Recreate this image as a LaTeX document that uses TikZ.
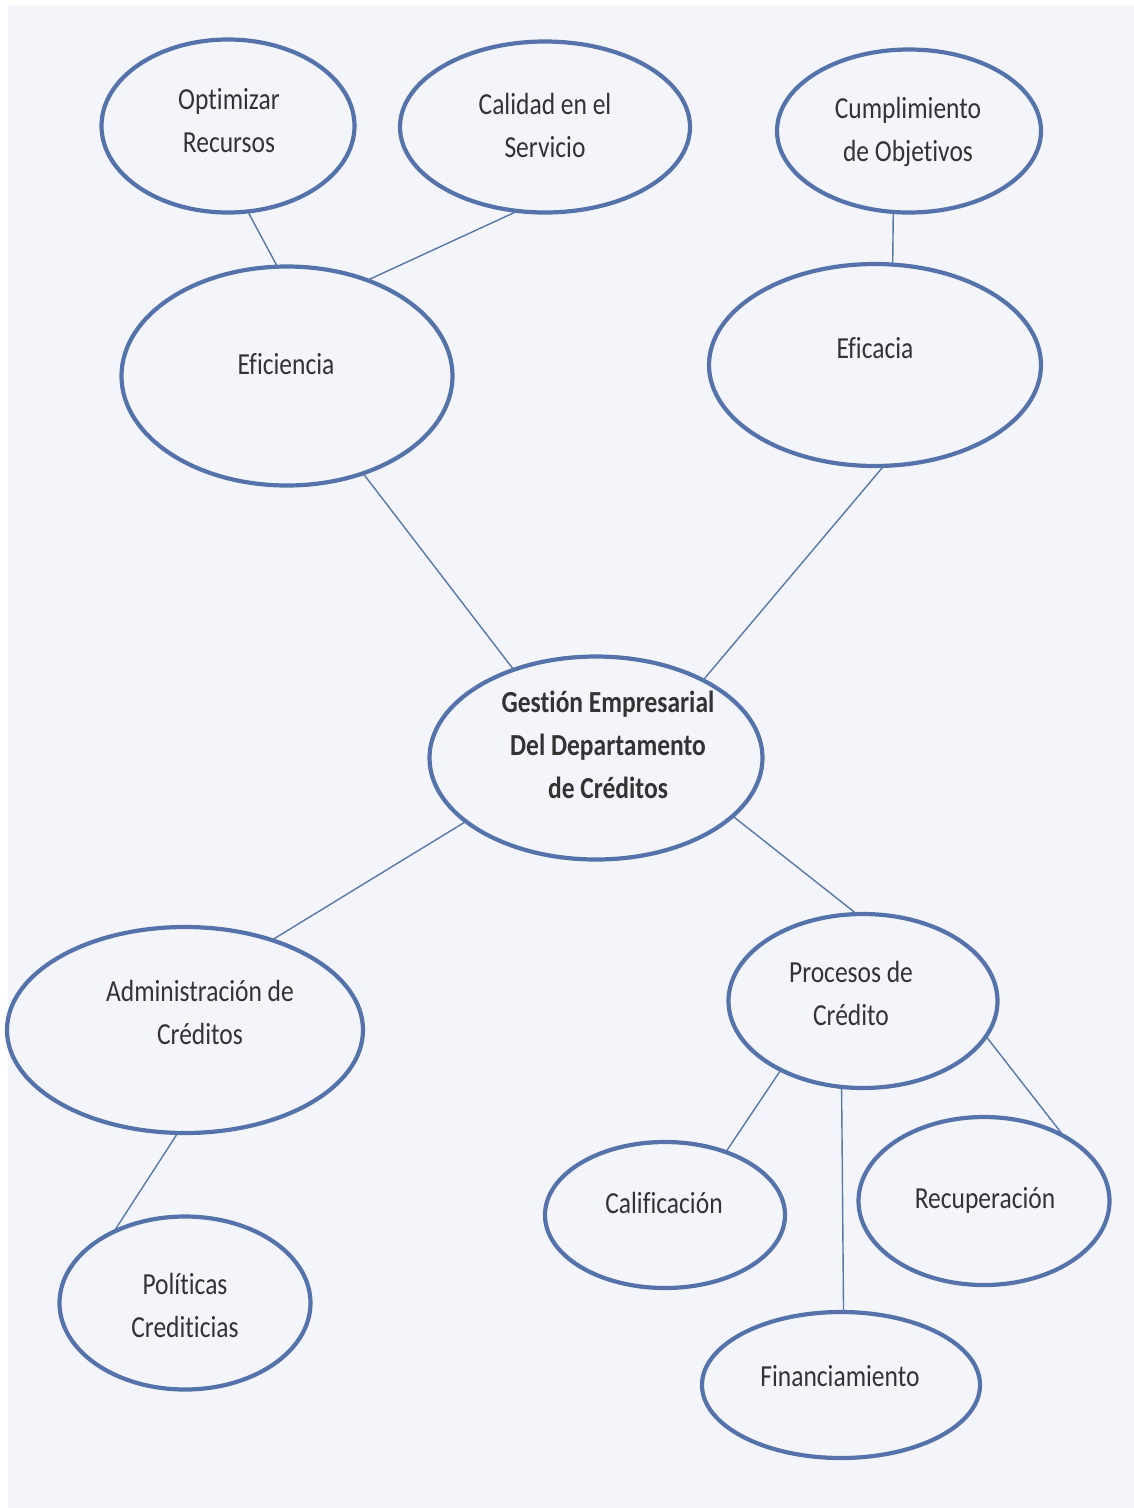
\documentclass[tikz,border=0pt]{standalone}
\usepackage{fontspec}
\usepackage{graphicx}
\setmainfont[Ligatures={NoCommon}]{Carlito}
\usetikzlibrary{shapes.geometric}
\definecolor{ovalblue}{HTML}{5573AA}
\definecolor{linkblue}{HTML}{5878A8}
\definecolor{inktext}{HTML}{333333}
\definecolor{paper}{HTML}{F4F5FA}
% centred lines of text, stretched upright
\newcommand{\talltext}[1]{\scalebox{1}[1.2]{\begin{tabular}{@{}c@{}}#1\end{tabular}}}
\begin{document}
\begin{tikzpicture}[x=1pt,y=-1pt,
  oval/.style={ellipse, draw=ovalblue, line width=4.2pt, inner sep=0pt, outer sep=0pt},
  lbl/.style={text=inktext, inner sep=0pt, font=\fontsize{25.5}{35.8}\selectfont},
  link/.style={draw=linkblue, line width=1.4pt}]
\useasboundingbox (0,0) rectangle (1134,1508);
\fill[white] (0,0) rectangle (1134,1508);
\fill[paper] (8,5) rectangle (1134,1508);

% ellipses
\node[oval, minimum width=253pt, minimum height=173pt] (opt) at (228,126) {};
\node[oval, minimum width=290pt, minimum height=171pt] (cal) at (545,127) {};
\node[oval, minimum width=264pt, minimum height=163pt] (cum) at (909,131) {};
\node[oval, minimum width=331pt, minimum height=219pt] (efi) at (287,376) {};
\node[oval, minimum width=332pt, minimum height=202pt] (efa) at (875,365) {};
\node[oval, minimum width=333pt, minimum height=203pt] (ges) at (596,758) {};
\node[oval, minimum width=356pt, minimum height=206pt] (adm) at (185,1030) {};
\node[oval, minimum width=269pt, minimum height=174pt] (pro) at (863,1001) {};
\node[oval, minimum width=240pt, minimum height=146pt] (clf) at (665,1215) {};
\node[oval, minimum width=251pt, minimum height=168pt] (rec) at (984,1201) {};
\node[oval, minimum width=278pt, minimum height=146pt] (fin) at (841,1385) {};
\node[oval, minimum width=251pt, minimum height=173pt] (pol) at (185,1303) {};

% labels
\node[lbl] (opt-t) at (229,122) {\talltext{Optimizar\\Recursos}};
\node[lbl] (cal-t) at (545,127) {\talltext{Calidad en el\\Servicio}};
\node[lbl] (cum-t) at (908,131) {\talltext{Cumplimiento\\de Objetivos}};
\node[lbl] (efi-t) at (286,366) {\talltext{Eficiencia}};
\node[lbl] (efa-t) at (875,350) {\talltext{Eficacia}};
\node[lbl, font=\fontsize{25.5}{35.8}\selectfont\bfseries] (ges-t) at (608,747) {\talltext{Gestión Empresarial\\Del Departamento\\de Créditos}};
\node[lbl] (adm-t) at (200,1014) {\talltext{Administración de\\Créditos}};
\node[lbl] (pro-t) at (851,995) {\talltext{Procesos de\\Crédito}};
\node[lbl] (clf-t) at (664,1205) {\talltext{Calificación}};
\node[lbl] (rec-t) at (985,1200) {\talltext{Recuperación}};
\node[lbl] (fin-t) at (840,1378) {\talltext{Financiamiento}};
\node[lbl] (pol-t) at (185,1307) {\talltext{Políticas\\Crediticias}};

% connectors
\draw[link] (opt.283) -- (efi.95);
\draw[link] (cal.252) -- (efi.50);
\draw[link] (cum.259) -- (efa.80);
\draw[link] (efi.308) -- (ges.133);
\draw[link] (efa.275) -- (ges.36);
\draw[link] (ges.206) -- (adm.46);
\draw[link] (ges.337) -- (pro.94);
\draw[link] (adm.266) -- (pol.135);
\draw[link] (pro.220) -- (clf.46);
\draw[link] (pro.256) -- (fin.88);
\draw[link] (pro.344) -- (rec.39);
\end{tikzpicture}
\end{document}
